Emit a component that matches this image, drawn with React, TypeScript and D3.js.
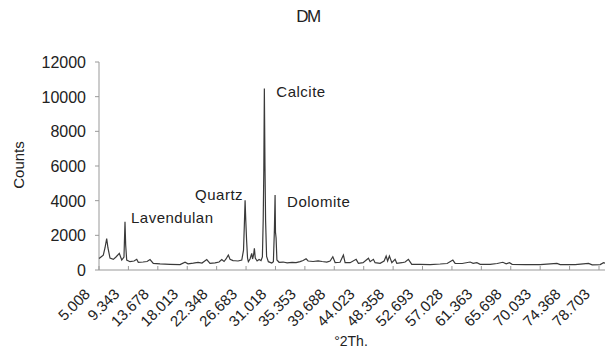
import { scaleLinear, line } from "d3";

// diffractogram DM
const twoTheta = [
  5.01, 5.3, 5.64, 5.89, 6.14, 6.33, 6.63, 7.12, 7.51, 8.0,
  8.36, 8.69, 8.84, 8.94, 9.09, 9.58, 10.17, 10.57, 10.8, 11.5,
  12.09, 12.53, 13.01, 14.0, 15.48, 16.95, 17.69, 18.13, 18.91, 19.6,
  20.19, 20.89, 21.37, 22.11, 22.7, 23.1, 23.44, 23.73, 24.07, 24.32,
  24.77, 25.06, 25.5, 26.05, 26.31, 26.43, 26.54, 26.64, 26.76, 26.9,
  27.02, 27.27, 27.52, 27.64, 27.79, 27.91, 28.04, 28.31, 28.6, 28.89,
  29.09, 29.21, 29.3, 29.38, 29.47, 29.56, 29.71, 29.97, 30.47, 30.71,
  30.86, 30.96, 31.02, 31.11, 31.23, 31.55, 32.14, 32.73, 33.47, 34.06,
  34.65, 35.09, 35.53, 35.83, 36.56, 37.3, 37.89, 38.58, 39.07, 39.47,
  39.81, 40.54, 41.03, 41.28, 42.02, 42.91, 43.24, 43.93, 44.72, 44.97,
  45.45, 45.7, 46.44, 47.03, 47.33, 47.55, 47.81, 48.17, 48.65, 48.9,
  49.64, 50.13, 50.61, 51.11, 52.34, 53.81, 55.29, 56.32, 57.16, 57.5,
  58.53, 59.71, 60.15, 60.7, 61.19, 62.66, 63.69, 64.53, 65.02, 65.51,
  65.9, 67.82, 70.03, 72.5, 72.98, 75.19, 77.16, 77.7, 78.88, 79.37, 79.62,
];
const counts = [
  660, 750, 860, 1270, 1815, 1270, 690, 615, 750, 960,
  575, 750, 2780, 1440, 575, 480, 520, 615, 445, 460,
  490, 605, 385, 357, 330, 315, 445, 357, 400, 445,
  400, 605, 385, 415, 460, 605, 490, 635, 865, 615,
  545, 535, 520, 575, 1150, 2590, 4030, 2880, 1730, 690,
  480, 635, 960, 635, 865, 1250, 690, 520, 605, 545,
  750, 2880, 5760, 10470, 6050, 2880, 780, 480, 400, 480,
  2300, 4320, 2190, 1845, 575, 445, 460, 415, 445, 430,
  480, 545, 645, 520, 490, 530, 490, 460, 520, 765,
  430, 445, 865, 430, 420, 615, 385, 420, 675, 480,
  615, 420, 385, 520, 805, 520, 805, 420, 615, 385,
  420, 460, 615, 330, 330, 315, 345, 375, 575, 385,
  375, 460, 385, 420, 330, 330, 375, 445, 357, 420,
  330, 315, 315, 385, 310, 315, 385, 300, 315, 420, 400,
];

const xTickLabels = [
  "5.008", "9.343", "13.678", "18.013", "22.348", "26.683", "31.018", "35.353", "39.688",
  "44.023", "48.358", "52.693", "57.028", "61.363", "65.698", "70.033", "74.368", "78.703",
];
const yTicks = [0, 2000, 4000, 6000, 8000, 10000, 12000];

const peakNames = ["Lavendulan", "Quartz", "Calcite", "Dolomite"];
const peakAt = [8.84, 26.54, 29.38, 30.96];
const peakCounts = [2780, 4030, 10470, 4320];

const W = 605;
const H = 355;
const font = "'Liberation Sans', Arial, sans-serif";

export default function App() {
  const x = scaleLinear().domain([5.008, 78.703]).range([99, 599]);
  const y = scaleLinear().domain([0, 12000]).range([270, 62]);
  const pts: [number, number][] = twoTheta.map((t, i) => [t, counts[i]]);
  const path = line<[number, number]>()
    .x((d) => x(d[0]))
    .y((d) => y(d[1]))(pts);

  // label offsets relative to their peak
  const labelDx = [6, -50, 12, 12];
  const labelDy = [1, 0, 8, 12];

  return (
    <svg
      width={W}
      height={H}
      style={{ position: "absolute", left: 0, top: 0, background: "#fff" }}
      fontFamily={font}
    >
      <text x={308} y={22} textAnchor="middle" fontSize={17} fill="#222" letterSpacing={-1.5}>
        DM
      </text>

      {/* y axis */}
      <line x1={99} x2={99} y1={y(12000)} y2={y(0)} stroke="#999" />
      {yTicks.map((v) => (
        <g key={v}>
          <line x1={95} x2={99} y1={y(v)} y2={y(v)} stroke="#999" />
          <text x={86} y={y(v) + 6} textAnchor="end" fontSize={16} fill="#222">
            {v}
          </text>
        </g>
      ))}
      <text
        transform={`translate(24,${165}) rotate(-90)`}
        textAnchor="middle"
        fontSize={15}
        fill="#222"
      >
        Counts
      </text>

      {/* x axis */}
      <line x1={99} x2={W} y1={270} y2={270} stroke="#999" />
      {xTickLabels.map((lab) => {
        const tx = x(+lab);
        return (
          <g key={lab}>
            <line x1={tx} x2={tx} y1={266} y2={270} stroke="#999" />
            <text
              transform={`translate(${tx - 8},${295}) rotate(-45)`}
              textAnchor="end"
              fontSize={15}
              fill="#222"
            >
              {lab}
            </text>
          </g>
        );
      })}
      <text x={351} y={346} textAnchor="middle" fontSize={14} fill="#222">
        °2Th.
      </text>

      <path d={path ?? ""} fill="none" stroke="#3a3a3a" strokeWidth={1.2} />

      {peakNames.map((n, i) => (
        <text
          key={n}
          x={x(peakAt[i]) + labelDx[i]}
          y={y(peakCounts[i]) + labelDy[i]}
          fontSize={15}
          letterSpacing={0.5}
          fill="#222"
        >
          {n}
        </text>
      ))}
    </svg>
  );
}
